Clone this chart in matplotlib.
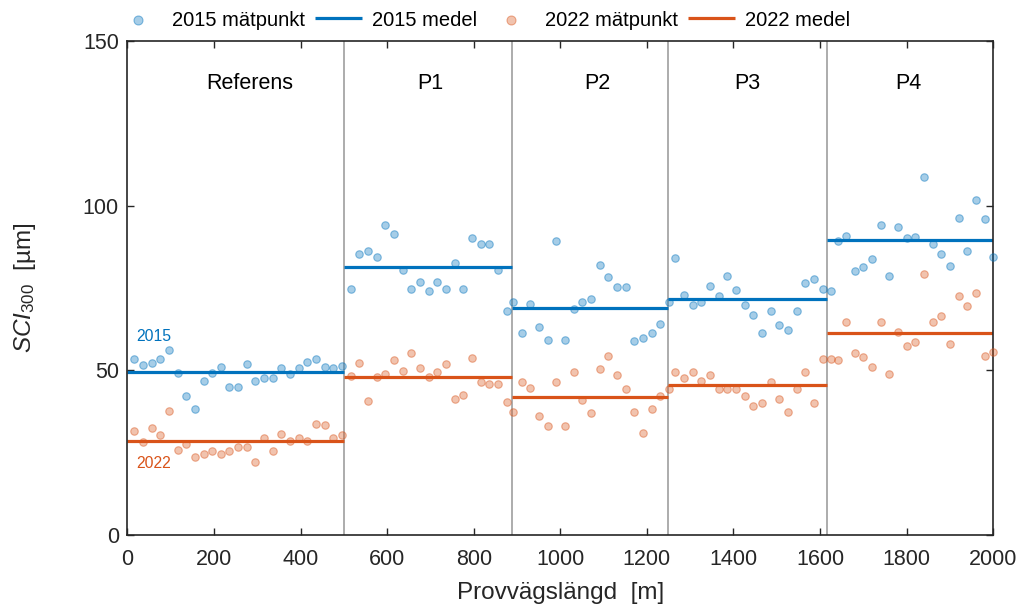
import numpy as np
import matplotlib
matplotlib.use("Agg")
import matplotlib.pyplot as plt

plt.rcParams["font.family"] = ["Liberation Sans", "DejaVu Sans"]
plt.rcParams["mathtext.fontset"] = "custom"
plt.rcParams["mathtext.rm"] = "Liberation Sans"
plt.rcParams["mathtext.it"] = "Liberation Sans:italic"

# section limits [m] and names
edges = [0, 500, 888, 1248, 1616, 2000]
sections = ["Referens", "P1", "P2", "P3", "P4"]
label_x = [282, 700, 1085, 1431, 1805]

# measuring positions [m]
x_ref = [16, 36, 56, 76, 96, 116, 136, 156, 176, 196, 216, 236, 256,
         276, 296, 316, 336, 356, 376, 396, 416, 436, 456, 476, 496]
x_p1 = [516, 536, 556, 576, 596, 616, 636, 656, 676, 696, 716, 736, 756,
        776, 796, 816, 836, 856, 876]
x_p2 = [891, 911, 931, 951, 971, 991, 1011, 1031, 1051, 1071, 1091, 1111,
        1131, 1151, 1171, 1191, 1211, 1231]
x_p3 = [1250, 1266, 1286, 1306, 1326, 1346, 1366, 1386, 1406, 1426, 1446,
        1466, 1486, 1506, 1526, 1546, 1566, 1586, 1606]
x_p4 = [1626, 1641, 1660, 1680, 1700, 1720, 1740, 1760, 1780, 1800, 1820,
        1840, 1860, 1880, 1900, 1920, 1940, 1960, 1980, 2000]

# SCI300 [um], 2015
sci15_ref = [53.4, 51.5, 52.2, 53.4, 56.1, 49.1, 42.2, 38.2, 46.9, 49.1, 51.1, 45.0, 44.8,
             51.8, 46.7, 47.8, 47.6, 50.8, 48.8, 50.7, 52.6, 53.4, 50.9, 50.6, 51.4]
sci15_p1 = [74.8, 85.3, 86.3, 84.5, 94.2, 91.3, 80.5, 74.6, 76.7, 74.0, 76.8, 74.6, 82.6,
            74.8, 90.1, 88.3, 88.4, 80.6, 67.9]
sci15_p2 = [70.7, 61.4, 70.1, 63.2, 59.1, 89.4, 59.2, 68.7, 70.7, 71.8, 82.1, 78.3, 75.4,
            75.3, 58.8, 59.9, 61.3, 64.0]
sci15_p3 = [70.8, 84.2, 72.9, 69.8, 70.9, 75.6, 72.6, 78.7, 74.4, 69.8, 66.9, 61.2, 67.9,
            63.8, 62.3, 67.9, 76.6, 77.6, 74.6]
sci15_p4 = [74.0, 89.4, 90.8, 80.2, 81.5, 83.7, 94.0, 78.7, 93.5, 90.3, 90.5, 108.8, 88.4,
            85.3, 81.6, 96.4, 86.2, 101.6, 96.0, 84.4]

# SCI300 [um], 2022
sci22_ref = [31.5, 28.1, 32.5, 30.5, 37.7, 25.8, 27.7, 23.8, 24.6, 25.6, 24.5, 25.4, 26.6,
             26.6, 22.2, 29.5, 25.4, 30.6, 28.5, 29.5, 28.5, 33.6, 33.5, 29.5, 30.3]
sci22_p1 = [48.2, 52.1, 40.6, 47.9, 49.0, 53.0, 49.9, 55.2, 50.8, 47.9, 49.6, 51.8, 41.4,
            42.4, 53.7, 46.4, 45.8, 45.8, 40.3]
sci22_p2 = [37.3, 46.6, 44.5, 36.2, 33.0, 46.6, 33.0, 49.5, 41.1, 37.0, 50.3, 54.3, 48.5,
            44.2, 37.2, 31.0, 38.2, 42.2]
sci22_p3 = [44.2, 49.5, 47.8, 49.6, 46.7, 48.5, 44.4, 44.4, 44.2, 42.3, 39.2, 40.2, 46.4,
            41.3, 37.3, 44.2, 49.4, 40.0, 53.4]
sci22_p4 = [53.5, 53.2, 64.8, 55.3, 54.2, 51.1, 64.8, 49.0, 61.5, 57.3, 58.6, 79.2, 64.6,
            66.5, 58.1, 72.6, 69.5, 73.6, 54.3, 55.5]

# section means
mean15 = [49.5, 81.4, 68.9, 71.7, 89.6]
mean22 = [28.5, 48.0, 41.8, 45.5, 61.3]

x_all = np.concatenate([x_ref, x_p1, x_p2, x_p3, x_p4])
y15 = np.concatenate([sci15_ref, sci15_p1, sci15_p2, sci15_p3, sci15_p4])
y22 = np.concatenate([sci22_ref, sci22_p1, sci22_p2, sci22_p3, sci22_p4])

blue = "#0072BD"
orange = "#D95319"
dark = "#262626"

fig = plt.figure(figsize=(10.2, 6.04), dpi=100)
ax = fig.add_axes([127.3 / 1020, 1 - 535 / 604, 866 / 1020, 494 / 604])

for e in edges[1:-1]:
    ax.axvline(e, color="#a6a6a6", lw=1.3, zorder=1)

for i in range(len(sections)):
    ax.plot([edges[i], edges[i + 1]], [mean15[i], mean15[i]], color=blue, lw=2.3,
            solid_capstyle="butt", zorder=2, label="2015 medel" if i == 0 else None)
    ax.plot([edges[i], edges[i + 1]], [mean22[i], mean22[i]], color=orange, lw=2.3,
            solid_capstyle="butt", zorder=2, label="2022 medel" if i == 0 else None)
    ax.text(label_x[i], 137.0, sections[i], ha="center", va="center", fontsize=15.5,
            color="black")

ax.scatter(x_all, y15, s=29, facecolor=(0, 0.447, 0.741, 0.35),
           edgecolor=(0, 0.447, 0.741, 0.45), linewidth=0.8, zorder=3,
           clip_on=False, label="2015 mätpunkt")
ax.scatter(x_all, y22, s=29, facecolor=(0.851, 0.325, 0.098, 0.35),
           edgecolor=(0.851, 0.325, 0.098, 0.45), linewidth=0.8, zorder=3,
           clip_on=False, label="2022 mätpunkt")

ax.text(20, 60.3, "2015", color=blue, fontsize=11.3, va="center", ha="left")
ax.text(20, 21.8, "2022", color=orange, fontsize=11.3, va="center", ha="left")

ax.set_xlim(0, 2000)
ax.set_ylim(0, 150)
ax.set_xticks(np.arange(0, 2001, 200))
ax.set_yticks([0, 50, 100, 150])
ax.tick_params(direction="in", top=True, right=True, length=5, width=1,
               labelsize=15.5, colors=dark, labelcolor=dark)
ax.tick_params(axis="x", pad=10)
ax.tick_params(axis="y", pad=6)
for sp in ax.spines.values():
    sp.set_color(dark)
    sp.set_linewidth(1.2)

ax.set_xlabel("Provvägslängd  [m]", fontsize=17.5, color=dark, labelpad=9)
ax.set_ylabel(r"$\mathit{SCI}_{\mathrm{300}}$  [µm]", fontsize=17.5, color=dark,
              labelpad=32)

h, l = ax.get_legend_handles_labels()
order = [l.index(n) for n in ["2015 mätpunkt", "2015 medel", "2022 mätpunkt", "2022 medel"]]
fig.legend([h[k] for k in order], [l[k] for k in order], loc="center left",
           bbox_to_anchor=(114.5 / 1020, 1 - 20 / 604), ncol=4, frameon=False,
           fontsize=14.5, borderpad=0, borderaxespad=0, handlelength=2.35,
           handletextpad=0.5, columnspacing=0.5, scatterpoints=1, markerscale=1.2)

fig.savefig("out.png", dpi=100)
